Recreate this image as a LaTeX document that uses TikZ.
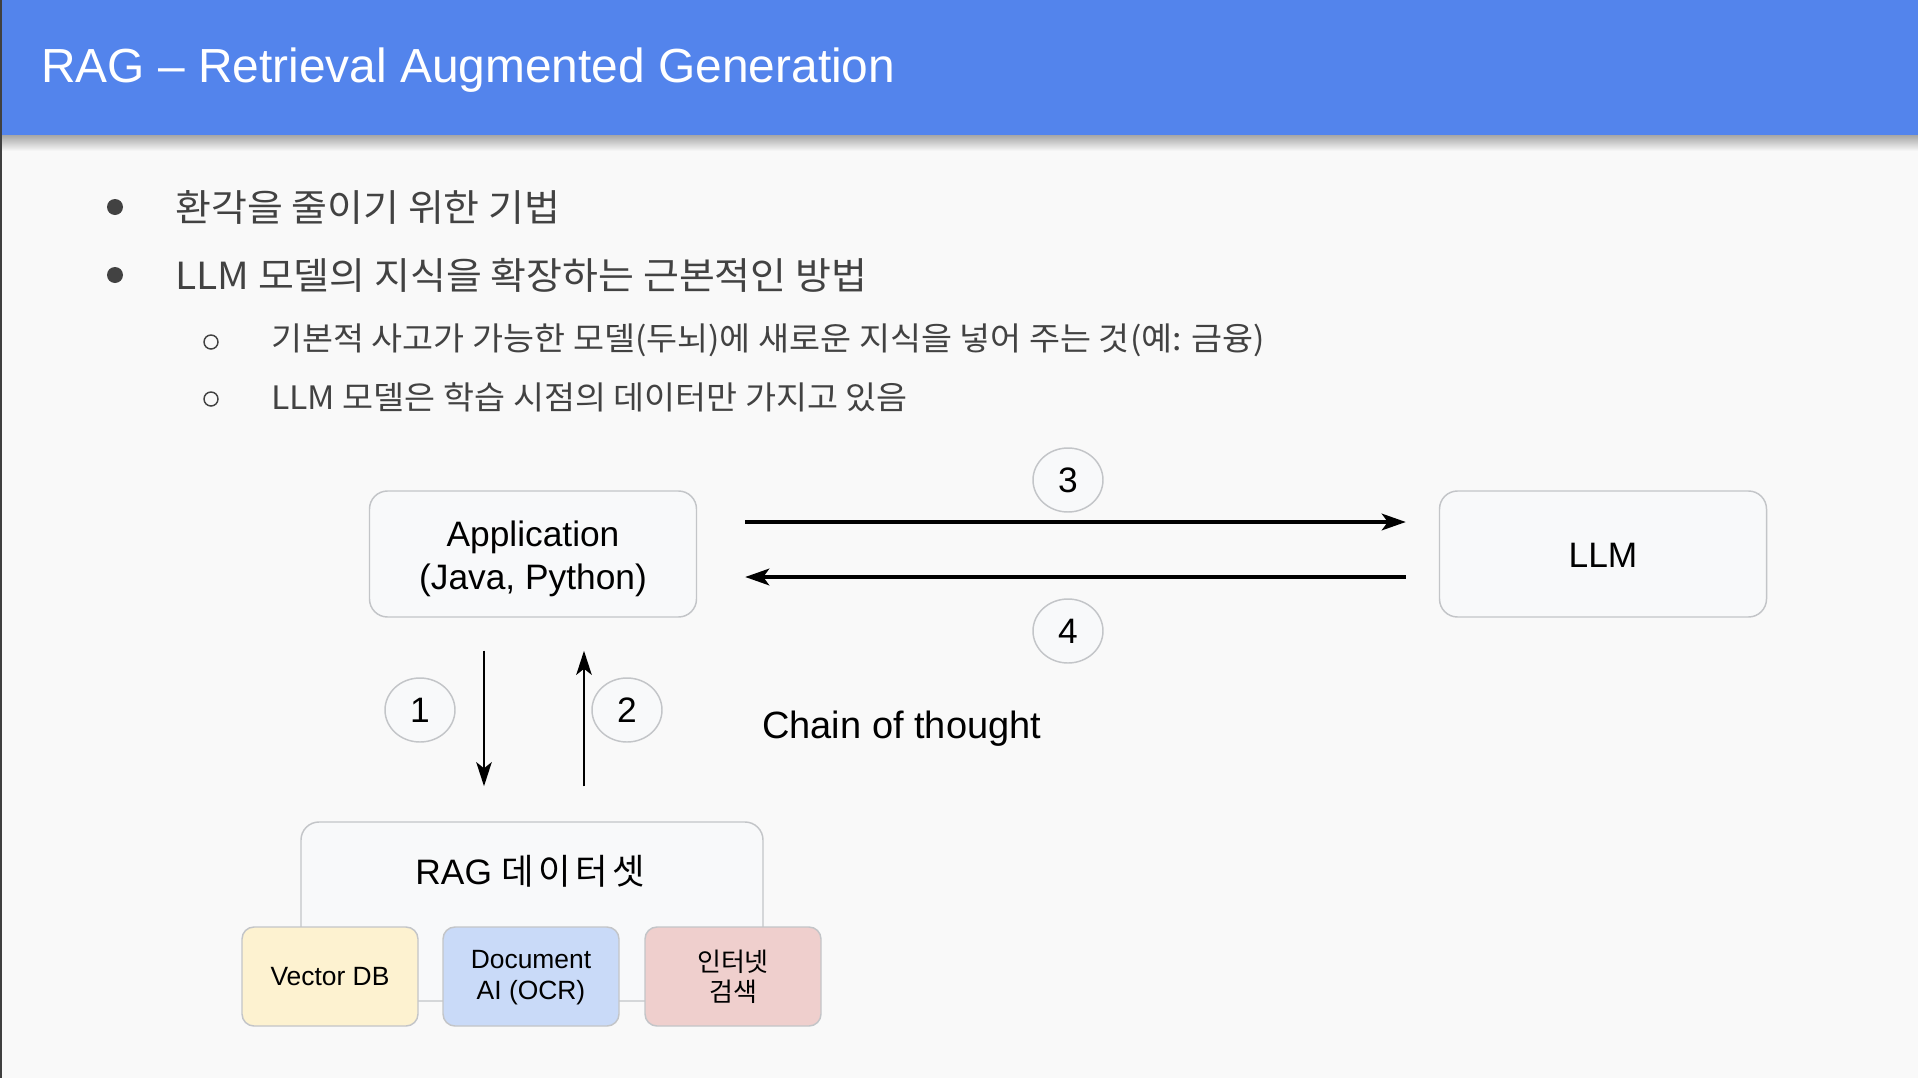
\documentclass[tikz,border=0pt]{standalone}
\usepackage{fontspec}
\setmainfont{Liberation Sans}
\newfontfamily\kr{Noto Sans CJK KR}
\newfontfamily\krwide{Noto Sans CJK KR}[FakeStretch=1.045]
\newfontfamily\krspaced{Noto Sans CJK KR}[LetterSpace=12]
\usetikzlibrary{arrows.meta}
\usetikzlibrary{shapes.geometric}
\usepackage{xcolor}

\definecolor{hdrblue}{HTML}{5384EC}
\definecolor{pagebg}{HTML}{F9F9F9}
\definecolor{boxfill}{HTML}{F8F9FA}
\definecolor{boxline}{HTML}{C3C5C8}
\definecolor{bodytext}{HTML}{424242}
\definecolor{vdbfill}{HTML}{FDF2D0}
\definecolor{ocrfill}{HTML}{C9DAF8}
\definecolor{webfill}{HTML}{EFCFCD}

\tikzset{
  mainitem/.style={anchor=west, inner sep=0pt, text=bodytext, font=\krwide\fontsize{28}{33}\selectfont},
  subitem/.style={anchor=west, inner sep=0pt, text=bodytext, font=\krwide\fontsize{24.2}{29}\selectfont},
  appbox/.style={draw=boxline, fill=boxfill, line width=1.1pt, rounded corners=13.5pt,
    minimum width=245.25pt, minimum height=94.5pt, align=center,
    font=\fontsize{26.5}{32}\selectfont},
  srcbox/.style={draw=boxline, line width=1.1pt, rounded corners=9pt,
    minimum width=132pt, minimum height=74.25pt, align=center, inner sep=0pt,
    font=\fontsize{19.8}{23.5}\selectfont},
  numtag/.style={ellipse, draw=boxline, fill=boxfill, line width=1.1pt,
    minimum width=52.5pt, minimum height=48pt, inner sep=0pt,
    font=\fontsize{26.5}{32}\selectfont},
  flowarrow/.style={-{Stealth[length=18pt,width=12.5pt,inset=4.5pt]}, line width=2.4pt},
  fetcharrow/.style={-{Stealth[length=18pt,width=11.5pt,inset=4.5pt]}, line width=2.2pt}
}

\begin{document}
\begin{tikzpicture}[x=0.75pt,y=0.75pt,yscale=-1,xscale=1]
\useasboundingbox (0,0) rectangle (1918,1078);
\fill[pagebg] (0,0) rectangle (1918,1078);

%Shape: Rectangle [title bar]
\fill[hdrblue] (0,0) rectangle (1918,135);
\shade[top color=black!35, bottom color=pagebg] (0,135) rectangle (1918,151);
\fill[black!75] (0,0) rectangle (2,1078);
% Text Node
\node[anchor=base west, inner sep=0pt, text=white, font=\fontsize{35.9}{43}\selectfont] (title) at (41,82) {RAG – Retrieval Augmented Generation};

%Shape: Circle [bullets]
\fill[bodytext] (115,207) circle (8);
\fill[bodytext] (115,275) circle (8);
\draw[bodytext, line width=1.1pt] (211,342) circle (7);
\draw[bodytext, line width=1.1pt] (211,399) circle (7);
% Text Node
\node[mainitem] (itemA) at (175,207) {환각을 줄이기 위한 기법};
% Text Node
\node[mainitem] (itemB) at (175,275) {LLM 모델의 지식을 확장하는 근본적인 방법};
% Text Node
\node[subitem] (itemBa) at (271,340) {기본적 사고가 가능한 모델(두뇌)에 새로운 지식을 넣어 주는 것(예: 금융)};
% Text Node
\node[subitem] (itemBb) at (271,397) {LLM 모델은 학습 시점의 데이터만 가지고 있음};

%Shape: Rounded Rectangle [app, llm]
\node[appbox] (app) at (533,554) {};
\node[appbox] (llm) at (1603,554) {};
% Text Node
\node[align=center, inner sep=0pt, font=\fontsize{26.5}{32}\selectfont] (appname) at (533,559) {Application\\(Java, Python)};
% Text Node
\node[inner sep=0pt, font=\fontsize{26.5}{32}\selectfont] (llmname) at (1603,555) {LLM};

%Shape: Rounded Rectangle [rag data set]
\node[appbox, minimum width=346.5pt, minimum height=134.25pt] (rag) at (532,911.5) {};
% Text Node
\node[anchor=base, inner sep=0pt, font=\fontsize{26.5}{32}\selectfont] (ragname) at (530,884) {RAG {\krspaced 데이터셋}};
\node[srcbox, fill=vdbfill] (vdb) at (330,976.5) {Vector DB};
\node[srcbox, fill=ocrfill] (ocr) at (531,976.5) {};
\node[srcbox, fill=webfill] (web) at (733,976.5) {};
% Text Node
\node[align=center, inner sep=0pt, font=\fontsize{19.8}{23.3}\selectfont] (ocrname) at (531,978) {Document\\AI (OCR)};
% Text Node
\node[align=center, inner sep=0pt, font=\kr\fontsize{19.5}{22.5}\selectfont] (webname) at (733,977) {인터넷\\검색};

%Straight Lines [requests and answers]
\draw[flowarrow] ([xshift=36pt,yshift=-24pt]app.east) -- ([xshift=-24.75pt,yshift=-24pt]llm.west);
\draw[flowarrow] ([xshift=-24.75pt,yshift=17.25pt]llm.west) -- ([xshift=36pt,yshift=17.25pt]app.east);
\draw[fetcharrow] ([xshift=-36.75pt,yshift=24.75pt]app.south) -- ([xshift=-36pt,yshift=-26.25pt]rag.north);
\draw[fetcharrow] ([xshift=39pt,yshift=-26.25pt]rag.north) -- ([xshift=38.25pt,yshift=24.75pt]app.south);

%Shape: Ellipse [step numbers]
\node[numtag] (n1) at (420,710) {1};
\node[numtag] (n2) at (627,710) {2};
\node[numtag] (n3) at (1068,480) {3};
\node[numtag] (n4) at (1068,631) {4};

% Text Node
\node[anchor=base west, inner sep=0pt, font=\fontsize{28.5}{34}\selectfont] (cot) at (762,738) {Chain of thought};

\end{tikzpicture}
\end{document}
